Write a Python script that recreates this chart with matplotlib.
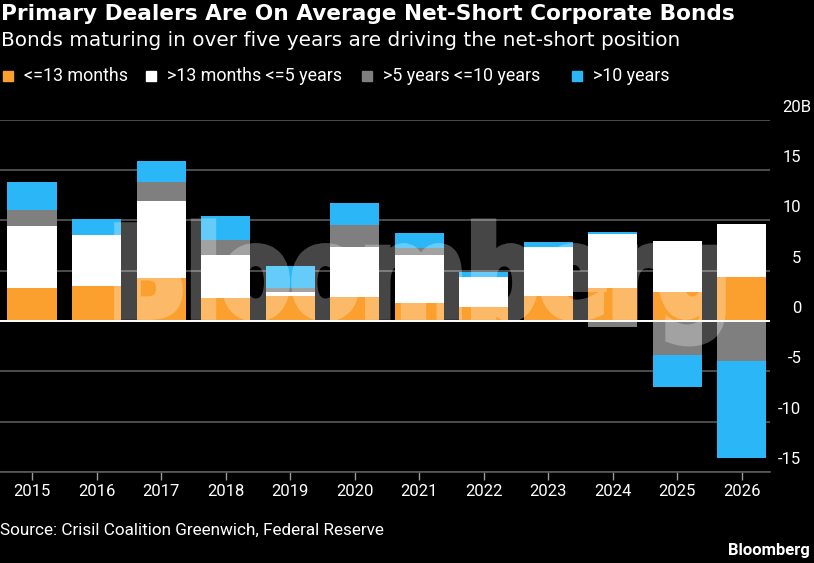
import matplotlib
matplotlib.use('Agg')
import matplotlib.pyplot as plt
import matplotlib.transforms as mtrans
from matplotlib.patches import Rectangle, PathPatch
from matplotlib.textpath import TextPath
from matplotlib.font_manager import FontProperties
import numpy as np

# values in $B
years = ['2015', '2016', '2017', '2018', '2019', '2020',
         '2021', '2022', '2023', '2024', '2025', '2026']
short_13m = [3.3, 3.5, 4.3, 2.3, 2.5, 2.4, 1.75, 1.35, 2.5, 3.3, 2.9, 4.4]
mid_5y = [6.1, 5.0, 7.6, 4.2, 0.35, 4.95, 4.75, 3.0, 4.8, 5.35, 5.0, 5.2]
mid_10y = [1.65, 0.0, 1.9, 1.5, 0.45, 2.2, 0.7, 0.0, 0.0, -0.65, -3.4, -4.0]
long_10y = [2.75, 1.6, 2.1, 2.4, 2.2, 2.15, 1.5, 0.55, 0.5, 0.15, -3.2, -9.6]

series = [short_13m, mid_5y, mid_10y, long_10y]
labels = ['<=13 months', '>13 months <=5 years', '>5 years <=10 years', '>10 years']
colors = ['#FBA02E', '#FFFFFF', '#7F7F7F', '#2BB7F7']

yticks = [-15, -10, -5, 0, 5, 10, 15, 20]
ytick_labels = ['-15', '-10', '-5', '0', '5', '10', '15', '20B']

plt.rcParams['font.family'] = ['Roboto', 'DejaVu Sans']

W, H = 814, 563


def watermark_mask(text):
    # draw the heavy watermark opaque on a transparent canvas, keep its alpha
    wfig = plt.figure(figsize=(W / 100, H / 100), dpi=100)
    wfig.patch.set_alpha(0)
    font = FontProperties(family='DejaVu Sans', weight='bold')
    tp = TextPath((0, 0), text, size=1, prop=font)
    ext = tp.get_extents()
    cap = TextPath((0, 0), 'B', size=1, prop=font).get_extents().height
    tr = (mtrans.Affine2D().translate(-ext.x0, 0)
          .scale(604 / ext.width / W, 90 / cap / H)
          .translate(118 / W, 1 - 316 / H) + wfig.transFigure)
    wfig.patches.append(PathPatch(tp, transform=tr, facecolor='white',
                                  edgecolor='white', linewidth=5.5))
    wfig.canvas.draw()
    mask = np.asarray(wfig.canvas.buffer_rgba())[..., 3] / 255.0
    plt.close(wfig)
    return mask


fig = plt.figure(figsize=(W / 100, H / 100), dpi=100, facecolor='black')
ax = fig.add_axes([0, 1 - 472 / H, 770 / W, (472 - 119.5) / H])
ax.set_facecolor('black')

x = np.arange(len(years))
pos_base = np.zeros(len(years))
neg_base = np.zeros(len(years))
for vals, col in zip(series, colors):
    v = np.array(vals, dtype=float)
    bottom = np.where(v >= 0, pos_base, neg_base)
    ax.bar(x, v, width=0.76, bottom=bottom, color=col, zorder=3, linewidth=0)
    pos_base += np.where(v >= 0, v, 0)
    neg_base += np.where(v < 0, v, 0)

ax.set_xlim(-0.496, 11.44)
ax.set_ylim(-15, 20)

# grid + zero line
ax.set_yticks(yticks)
ax.yaxis.grid(True, color='#5a5a5a', linewidth=1.2, zorder=1)
ax.axhline(0, color='white', linewidth=1.4, zorder=4)
ax.set_axisbelow(True)
for s in ['top', 'left', 'right']:
    ax.spines[s].set_visible(False)
ax.spines['bottom'].set_color('#5a5a5a')
ax.spines['bottom'].set_linewidth(1.2)

ax.yaxis.tick_right()
ax.set_yticklabels(ytick_labels)
ax.tick_params(axis='y', length=0, pad=22.5, labelsize=12, labelcolor='white')
for i, lab in enumerate(ax.get_yticklabels()):
    lab.set_horizontalalignment('right')
    dx = 0.1 if ytick_labels[i].endswith('B') else 0
    lab.set_transform(lab.get_transform() +
                      mtrans.ScaledTranslation(dx, 0.14, fig.dpi_scale_trans))

ax.set_xticks(x)
ax.set_xticklabels(years)
ax.tick_params(axis='x', length=6, width=1, color='#9a9a9a', pad=3,
               labelsize=12, labelcolor='white')

# watermark over the bars
mask = watermark_mask('Bloomberg')
wm_img = np.ones((H, W, 4))
wm_img[..., 3] = mask * 0.28
fig.figimage(wm_img, 0, 0, zorder=2, origin='upper')

# titles
fig.text(1 / W, 1 - 14 / H, 'Primary Dealers Are On Average Net-Short Corporate Bonds',
         color='white', fontsize=15.6, fontweight='bold', family='DejaVu Sans',
         va='center', ha='left')
fig.text(1 / W, 1 - 40 / H, 'Bonds maturing in over five years are driving the net-short position',
         color='white', fontsize=14.4, family='DejaVu Sans', va='center', ha='left')

# legend
sq_x = [3, 146, 362, 572]
for sx_, lab, col in zip(sq_x, labels, colors):
    fig.patches.append(Rectangle((sx_ / W, 1 - 81 / H), 10 / W, 10 / H,
                                 transform=fig.transFigure, color=col))
    fig.text((sx_ + 21) / W, 1 - 76.5 / H, lab, color='white', fontsize=12.9,
             va='center', ha='left')

fig.text(0, 1 - 530 / H, 'Source: Crisil Coalition Greenwich, Federal Reserve',
         color='white', fontsize=12.3, va='center', ha='left')
fig.text(810 / W, 1 - 551 / H, 'Bloomberg', color='white', fontsize=12,
         fontweight='bold', va='center', ha='right')

fig.savefig('out.png', dpi=100, facecolor='black')
